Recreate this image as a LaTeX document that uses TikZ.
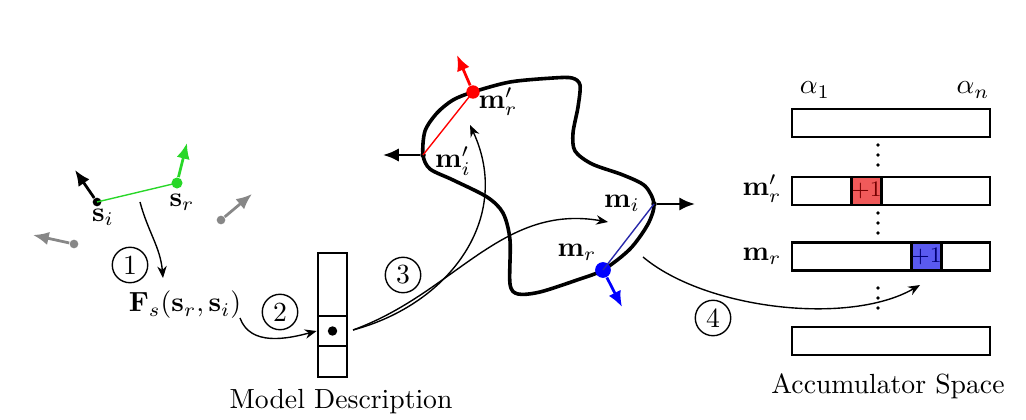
\documentclass[tikz,border=0pt]{standalone}
\usepackage{amsmath}
\usetikzlibrary{arrows.meta}

\definecolor{featgreen}{RGB}{40,215,40}
\definecolor{featgray}{RGB}{135,135,135}
\definecolor{linkblue}{RGB}{40,40,170}
\definecolor{cellred}{RGB}{240,90,90}
\definecolor{cellblue}{RGB}{90,90,240}

\newcommand{\pxunit}{0.0127cm}

\tikzstyle{dot}=[circle,fill,inner sep=0pt,minimum size=1mm]
\tikzstyle{vec}=[draw,line width=1pt,-{Latex[length=2mm,width=1.7mm]}]
\tikzstyle{link}=[draw,line width=0.5pt]
\tikzstyle{flow}=[draw,line width=0.5pt,-{Stealth[length=1.5mm,width=1.2mm]}]
\tikzstyle{outline}=[draw,line width=1.3pt,line join=round]
\tikzstyle{stagenum}=[draw,circle,line width=0.5pt,inner sep=0pt,minimum size=4.5mm]
\tikzstyle{cell}=[draw,line width=1pt,inner sep=0pt,minimum width=29*\pxunit]
\tikzstyle{bar}=[draw,line width=1pt,inner sep=0pt,minimum width=198*\pxunit,minimum height=28*\pxunit]
\tikzstyle{vote}=[draw,line width=1pt,inner sep=0pt,minimum width=30*\pxunit,minimum height=28*\pxunit,font=\footnotesize]

\begin{document}
\begin{tikzpicture}[x=\pxunit, y=\pxunit]
    \useasboundingbox (0,0) rectangle (1026,419);
    % The object outline
    \draw[outline] plot[smooth cycle, tension=0.5] coordinates {(423,264) (425,288) (437,306) (453,319) (473,327) (510,337) (553,341) (572,341) (580,334) (578,312) (573,286) (575,268) (592,255) (623,244) (645,233) (654,215) (648,195) (630,170) (603,149) (577,139) (540,127) (518,125) (510,135) (510,179) (503,206) (487,222) (453,239) (430,250)};
    % Point pairs with their normals
    \foreach \pos/\name in {{(75,249)/sitip}, {(187,276)/srtip}, {(252,225)/gatip}, {(33,184)/gbtip}, {(383,264)/miptip}, {(457,364)/mrptip}, {(695,215)/mitip}, {(622,112)/mrtip}}
        \node[coordinate] (\name) at \pos {};
    \foreach \pos/\name/\col/\size in {{(97,217)/si/black/1.1mm}, {(177,236)/sr/featgreen/1.4mm}, {(221,199)/ga/featgray/1.1mm}, {(74,175)/gb/featgray/1.1mm}, {(423,264)/mip/black/0.7mm}, {(473,327)/mrp/red/1.7mm}, {(654,215)/mi/black/0.7mm}, {(603,149)/mr/blue/2mm}}
        \node[dot,\col,minimum size=\size] (\name) at \pos {};
    \foreach \source/\dest/\col in {si/sr/featgreen, mip/mrp/red, mi/mr/linkblue}
        \path[link,\col] (\source.center) -- (\dest.center);
    \foreach \source/\dest/\col in {si/sitip/black, sr/srtip/featgreen, ga/gatip/featgray, gb/gbtip/featgray, mip/miptip/black, mrp/mrptip/red, mi/mitip/black, mr/mrtip/blue}
        \path[vec,\col] (\source) -- (\dest);
    % Labels of the points
    \node (silab) at (103,202) {$\mathbf{s}_i$};
    \node (srlab) at (182,217) {$\mathbf{s}_r$};
    \node (miplab) at (453,258) {$\mathbf{m}'_i$};
    \node (mrplab) at (498,317) {$\mathbf{m}'_r$};
    \node (milab) at (622,216) {$\mathbf{m}_i$};
    \node (mrlab) at (577,167) {$\mathbf{m}_r$};
    \node (feat) at (185,114) {$\mathbf{F}_s(\mathbf{s}_r,\mathbf{s}_i)$};
    % Model description
    \node[cell,minimum height=63*\pxunit] (mtop) at (332.5,134.5) {};
    \node[cell,minimum height=30*\pxunit] (mmid) at (332.5,88) {};
    \node[cell,minimum height=31*\pxunit] (mbot) at (332.5,57.5) {};
    \node[dot,minimum size=1.2mm] (mdot) at (mmid) {};
    \node (mlab) at (341,17) {Model Description};
    % Accumulator space
    \foreach \y/\name in {296/bara, 228/barb, 162.5/barc, 78/bard}
        \node[bar] (\name) at (891,\y) {};
    \node[vote,fill=cellred,text=red!45!black] (votered) at (866.5,228) {$+1$};
    \node[vote,fill=cellblue,text=blue!45!black] (voteblue) at (926.5,162.5) {$+1$};
    \foreach \y in {264,196,121}
        \foreach \k in {-10,0,10}
            \fill (878,\y+\k) circle (1.8);
    \node (aone) at (815,329) {$\alpha_1$};
    \node (an) at (973,329) {$\alpha_n$};
    \node (acclabb) at (762,230) {$\mathbf{m}'_r$};
    \node (acclabc) at (762,163) {$\mathbf{m}_r$};
    \node (acclab) at (888,33) {Accumulator Space};
    % Steps
    \foreach \pos/\name/\num in {{(130,154)/one/1}, {(280,107)/two/2}, {(403,144)/three/3}, {(713,101)/four/4}}
        \node[stagenum] (\name) at \pos {\num};
    \foreach \pos/\name in {{(140,217)/fa}, {(163,141)/fb}, {(240,101)/fc}, {(353,89)/fd}, {(470,294)/fe}, {(608,197)/ff}, {(643,162)/fg}, {(920,134)/fh}}
        \node[coordinate] (\name) at \pos {};
    \path[flow] (fa) to[out=-75,in=95] (fb);
    \path[flow] (fc) to[out=-70,in=195] (mmid.west);
    \path[flow] (fd) to[out=15,in=-65,looseness=1.1] (fe);
    \path[flow] (fd) to[out=20,in=170] (ff);
    \path[flow] (fg) to[out=-40,in=210,looseness=0.75] (fh);
\end{tikzpicture}
\end{document}
